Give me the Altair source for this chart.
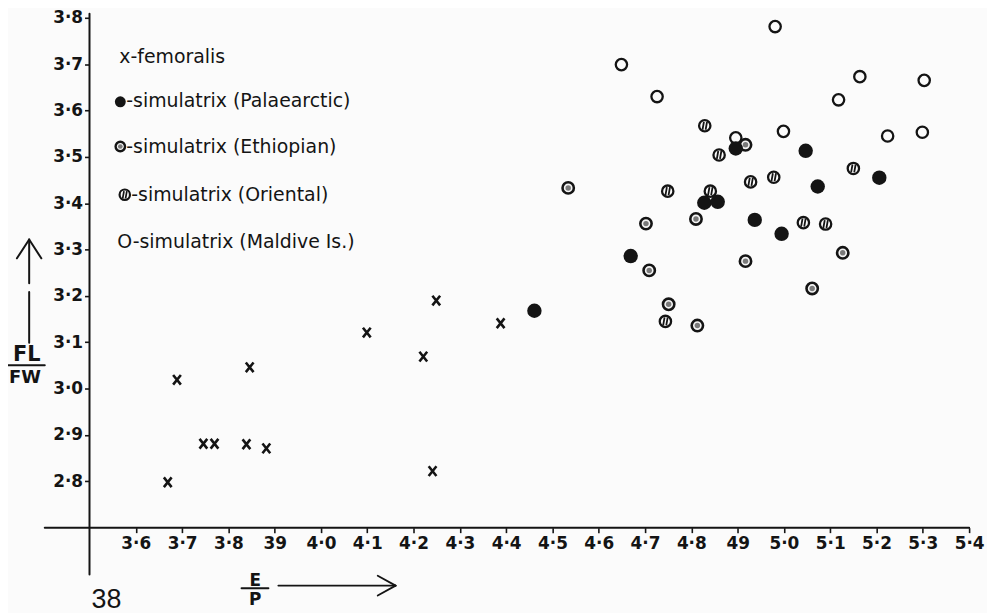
import altair as alt
import pandas as pd

# ---------------- data ----------------
femoralis_x = [3.669, 3.689, 3.746, 3.770, 3.839, 3.846, 3.882, 4.099, 4.221, 4.241, 4.249, 4.388]
femoralis_y = [2.798, 3.019, 2.881, 2.881, 2.880, 3.046, 2.871, 3.121, 3.069, 2.822, 3.190, 3.141]

palaearctic_x = [4.461, 4.669, 4.828, 4.857, 4.896, 4.937, 4.995, 5.047, 5.073, 5.206]
palaearctic_y = [3.168, 3.286, 3.401, 3.403, 3.518, 3.364, 3.334, 3.513, 3.436, 3.455]

ethiopian_x = [4.534, 4.702, 4.709, 4.751, 4.810, 4.813, 4.917, 4.917, 5.061, 5.127]
ethiopian_y = [3.433, 3.356, 3.255, 3.182, 3.366, 3.136, 3.526, 3.275, 3.216, 3.293]

oriental_x = [4.744, 4.749, 4.829, 4.841, 4.860, 4.928, 4.978, 5.042, 5.090, 5.150]
oriental_y = [3.145, 3.426, 3.567, 3.426, 3.504, 3.446, 3.456, 3.358, 3.355, 3.475]

maldive_x = [4.649, 4.726, 4.896, 4.981, 4.999, 5.118, 5.164, 5.224, 5.299, 5.303]
maldive_y = [3.699, 3.630, 3.541, 3.781, 3.555, 3.623, 3.673, 3.545, 3.553, 3.665]

groups = ["femoralis", "Palaearctic", "Ethiopian", "Oriental", "Maldive Is."]

x_tick_values = [3.6, 3.7, 3.8, 3.9, 4.0, 4.1, 4.2, 4.3, 4.4, 4.5,
                 4.6, 4.7, 4.8, 4.9, 5.0, 5.1, 5.2, 5.3, 5.4]
x_tick_labels = ["3·6", "3·7", "3·8", "39", "4·0", "4·1", "4·2", "4·3", "4·4", "4·5",
                 "4·6", "4·7", "4·8", "49", "5·0", "5·1", "5·2", "5·3", "5·4"]
y_tick_values = [2.8, 2.9, 3.0, 3.1, 3.2, 3.3, 3.4, 3.5, 3.6, 3.7, 3.8]
y_tick_labels = ["2·8", "2·9", "3·0", "3·1", "3·2", "3·3", "3·4", "3·5", "3·6", "3·7", "3·8"]

legend_texts = ["x-femoralis",
                "-simulatrix (Palaearctic)",
                "-simulatrix (Ethiopian)",
                "-simulatrix (Oriental)",
                "O-simulatrix (Maldive Is.)"]

# ---------------- build table ----------------
rows = []
for g, xs, ys in zip(groups,
                     [femoralis_x, palaearctic_x, ethiopian_x, oriental_x, maldive_x],
                     [femoralis_y, palaearctic_y, ethiopian_y, oriental_y, maldive_y]):
    for a, b in zip(xs, ys):
        rows.append({"group": g, "x": a, "y": b})
df = pd.DataFrame(rows)

INK = "#141414"
FONT = "DejaVu Sans"
W, H = 885, 513

def js_list(labels):
    return "[" + ",".join("'" + s + "'" for s in labels) + "]"

x_axis = alt.Axis(values=x_tick_values,
                  labelExpr=js_list(x_tick_labels) + "[round(datum.value*10)-36]",
                  domain=False, grid=False, ticks=True, tickSize=5, tickWidth=1.6,
                  tickColor=INK, labelFont=FONT, labelFontSize=17, labelFontWeight="bold",
                  labelColor=INK, labelPadding=3, labelFlush=False, labelOverlap=False,
                  title=None)
y_axis = alt.Axis(values=y_tick_values,
                  labelExpr=js_list(y_tick_labels) + "[round(datum.value*10)-28]",
                  domain=False, grid=False, ticks=True, tickSize=5, tickWidth=1.6,
                  tickColor=INK, labelFont=FONT, labelFontSize=17, labelFontWeight="bold",
                  labelColor=INK, labelPadding=2, labelFlush=False, labelOverlap=False,
                  title=None)

base = alt.Chart(df).encode(
    x=alt.X("x:Q", scale=alt.Scale(domain=[3.5, 5.4], nice=False, zero=False), axis=x_axis),
    y=alt.Y("y:Q", scale=alt.Scale(domain=[2.7, 3.8], nice=False, zero=False), axis=y_axis),
)

X_PATH = "M-0.8,-1L0.8,1M0.8,-1L-0.8,1"
BARS_PATH = "M-0.15,-0.7L-0.4,0.7M0.4,-0.7L0.15,0.7"

def grp(name):
    return base.transform_filter(alt.datum.group == name)

maldive = grp("Maldive Is.").mark_point(shape="circle", filled=False, size=130,
                                          strokeWidth=2.3, color=INK, opacity=1)
oriental_ring = grp("Oriental").mark_point(shape="circle", filled=False, size=130,
                                            strokeWidth=2.3, color=INK, opacity=1)
oriental_bars = grp("Oriental").mark_point(shape=BARS_PATH, filled=False, size=130,
                                            strokeWidth=1.8, color=INK, opacity=1)
eth_ring = grp("Ethiopian").mark_point(shape="circle", filled=True, size=130,
                                        fill="#f4f4f4", stroke=INK, strokeWidth=2.6, opacity=1)
eth_core = grp("Ethiopian").mark_point(shape="circle", filled=True, size=30,
                                        color="#7a7a7a", opacity=1)
pal = grp("Palaearctic").mark_point(shape="circle", filled=True, size=210,
                                     color=INK, opacity=1)
fem = grp("femoralis").mark_point(shape=X_PATH, filled=False, size=95,
                                   strokeWidth=2.6, color=INK, opacity=1)

# ---------------- decorations (pixel positions relative to plot area) ----------------
one = pd.DataFrame({"k": [0]})

def seg(x1, y1, x2, y2, w=2.0):
    return alt.Chart(one).mark_rule(color=INK, strokeWidth=w, strokeCap="round").encode(
        x=alt.value(x1), y=alt.value(y1), x2=alt.value(x2), y2=alt.value(y2))

def txt(s, x, y, size, align="left", weight="normal", font=FONT):
    return alt.Chart(one).mark_text(text=s, align=align, baseline="alphabetic",
                                    fontSize=size, fontWeight=weight, font=font,
                                    color=INK).encode(x=alt.value(x), y=alt.value(y))

def sym(x, y, **kw):
    return alt.Chart(one).mark_point(opacity=1, **kw).encode(x=alt.value(x), y=alt.value(y))

decor = [
    # axes lines
    seg(-45, 513, 885, 513, 2.0),
    seg(0, -4, 0, 560, 2.0),
    # y title arrow
    seg(-60.7, 225, -60.7, 267, 2.0),
    seg(-60.7, 276, -60.7, 327, 2.0),
    seg(-60.7, 223, -73, 242, 2.0),
    seg(-60.7, 223, -48.5, 242, 2.0),
    # FL / FW
    txt("FL", -63, 345, 21, align="center", weight="bold"),
    seg(-85, 349.5, -45, 349.5, 2.0),
    txt("FW", -65, 367, 18, align="center", weight="bold"),
    # E / P
    txt("E", 166.7, 572, 17, align="center", weight="bold"),
    seg(153, 574, 180, 574, 2.0),
    txt("P", 166.7, 591, 17, align="center", weight="bold"),
    seg(190, 571.3, 308, 571.3, 1.8),
    seg(308, 571.3, 290, 561.3, 1.8),
    seg(308, 571.3, 290, 581.3, 1.8),
    # page number
    txt("38", 2, 594, 27, font="Liberation Sans"),
]

legend = [
    txt(legend_texts[0], 30, 45, 19),
    sym(31, 84.5, shape="circle", filled=True, size=120, color=INK),
    txt(legend_texts[1], 37, 90, 19),
    sym(31, 129.5, shape="circle", filled=True, size=90, fill="#f4f4f4", stroke=INK, strokeWidth=2.4),
    sym(31, 129.5, shape="circle", filled=True, size=22, color="#7a7a7a"),
    txt(legend_texts[2], 37, 136, 19),
    sym(35.5, 178, shape="circle", filled=False, size=110, strokeWidth=2.2, color=INK),
    sym(35.5, 178, shape=BARS_PATH, filled=False, size=110, strokeWidth=1.7, color=INK),
    txt(legend_texts[3], 42, 184, 19),
    txt(legend_texts[4], 28, 232, 19),
]

chart = alt.layer(
    maldive, oriental_ring, oriental_bars, eth_ring, eth_core, pal, fem,
    *decor, *legend
).properties(
    width=W, height=H,
    autosize=alt.AutoSizeParams(type="none"),
    padding={"left": 82, "top": 8, "right": 18, "bottom": 84},
    background="#fbfbfb",
).configure_view(stroke=None)

chart.save("out.html", embed_options={"renderer": "svg", "actions": False})
